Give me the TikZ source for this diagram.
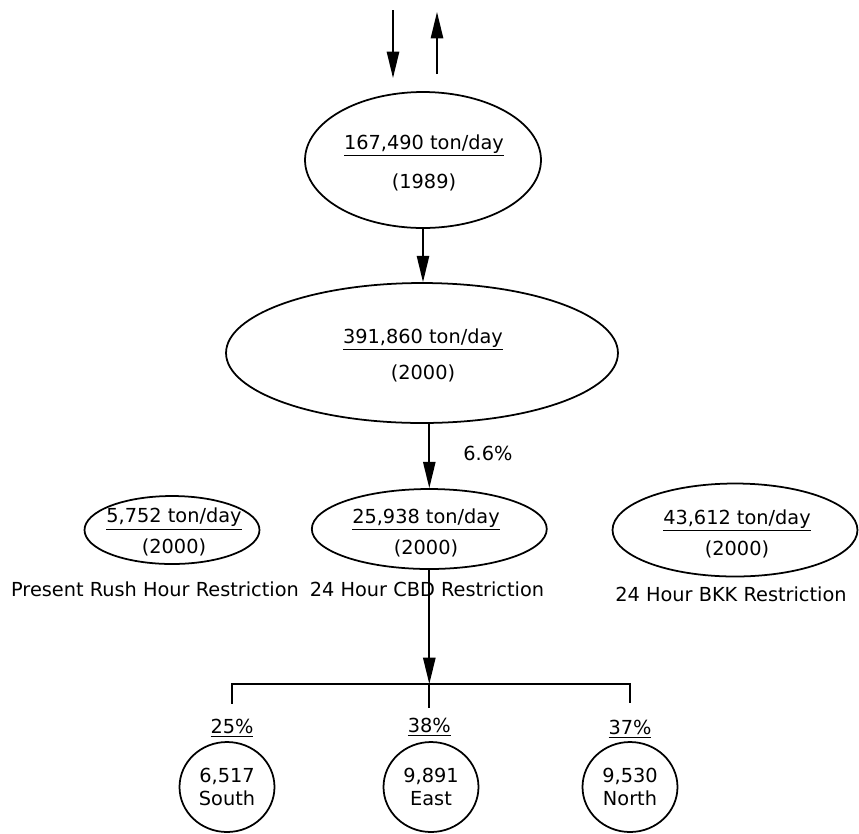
\documentclass[tikz,border=0pt]{standalone}
\usepackage{fontspec}
\setmainfont{DejaVu Sans}
\usetikzlibrary{arrows.meta,positioning,shapes.geometric}

\begin{document}
\begin{tikzpicture}[x=0.02cm,y=-0.02cm,>={Triangle[length=15pt,width=7pt]}, every node/.style={font=\fontsize{11}{13.5}\selectfont}]
\tikzstyle{blob}=[draw, ellipse, line width=1pt, inner sep=0pt]
\tikzstyle{val}=[align=center, inner sep=1pt]
\tikzstyle{flow}=[->, line width=1pt]
\tikzstyle{link}=[line width=1pt]
\useasboundingbox (0,0) rectangle (859,833);

% incoming / outgoing flows
\coordinate (inTop) at (393,10);
\coordinate (inEnd) at (393,78);
\coordinate (outBot) at (437,74);
\coordinate (outTop) at (437,12);
\draw[flow] (inTop) -- (inEnd);
\draw[flow] (outBot) -- (outTop);

% totals
\node[blob, minimum width=4.72cm, minimum height=2.72cm] (now) at (423,160) {};
\node[val] (nowtxt) at (424,163) {\underline{167,490 ton/day}\\[9pt](1989)};
\node[blob, minimum width=7.84cm, minimum height=2.8cm] (fut) at (422,353) {};
\node[val] (futtxt) at (423,355) {\underline{391,860 ton/day}\\[7pt](2000)};

% restriction cases
\node[blob, minimum width=3.5cm, minimum height=1.36cm] (rush) at (172,530) {};
\node[val] (rushtxt) at (174,532) {\underline{5,752 ton/day}\\[4pt](2000)};
\node[blob, minimum width=4.7cm, minimum height=1.6cm] (cbd) at (429.3,529) {};
\node[val] (cbdtxt) at (426,533) {\underline{25,938 ton/day}\\[4.5pt](2000)};
\node[blob, minimum width=4.9cm, minimum height=1.86cm] (bkk) at (735,530) {};
\node[val] (bkktxt) at (737,534) {\underline{43,612 ton/day}\\[4.5pt](2000)};

\node (rushlbl) at (155,589) {Present Rush Hour Restriction};
\node (cbdlbl) at (427,589) {24 Hour CBD Restriction};
\node (bkklbl) at (731,594) {24 Hour BKK Restriction};

\node (share) at (488,453) {6.6\%};

% split by direction
\coordinate (split) at (429.3,684);
\node (p25) at (232,728) {\underline{25\%}};
\node (p38) at (429.3,727) {\underline{38\%}};
\node (p37) at (630,729) {\underline{37\%}};
\node[blob, minimum width=1.9cm, minimum height=1.8cm, align=center] (south) at (227,787) {6,517\\South};
\node[blob, minimum width=1.9cm, minimum height=1.8cm, align=center] (east) at (431,787) {9,891\\East};
\node[blob, minimum width=1.9cm, minimum height=1.8cm, align=center] (north) at (630,787) {9,530\\North};

\draw[flow] (now.south) -- (now.south |- fut.north);
\draw[flow] (fut.south -| cbd.north) -- (cbd.north);
\draw[flow] (cbd.south) -- (split);
\draw[link] ([yshift=5pt]p25.north) |- (split) -| ([yshift=6pt]p37.north);
\draw[link] (split) -- ([yshift=2pt]p38.north);
\end{tikzpicture}
\end{document}
